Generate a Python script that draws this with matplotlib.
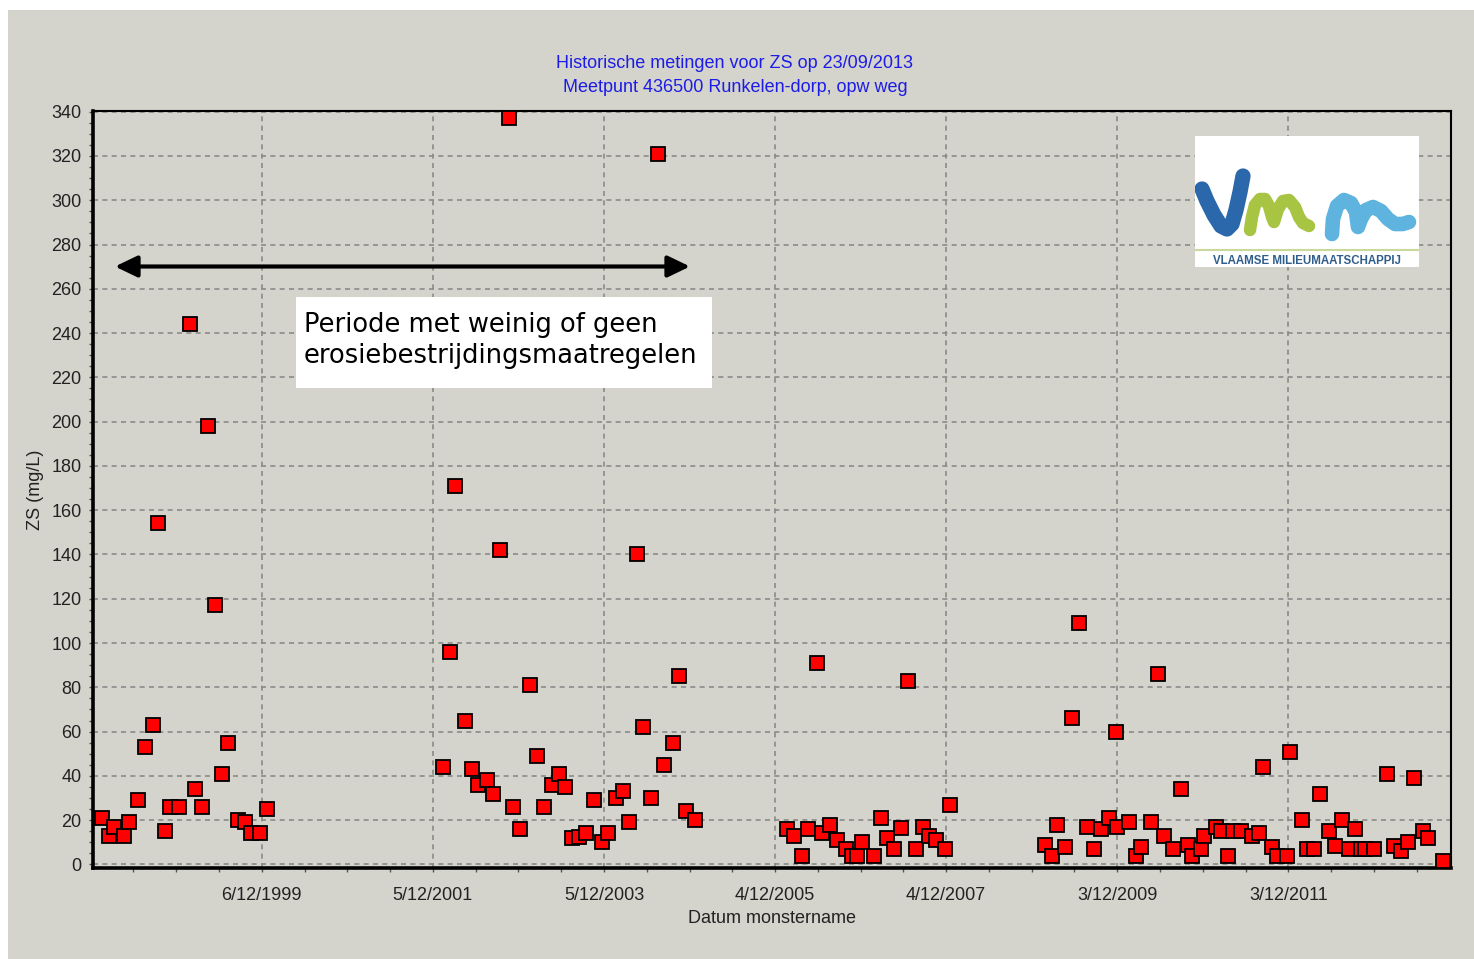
import matplotlib
matplotlib.use('Agg')
import matplotlib.pyplot as plt
import matplotlib.dates as mdates
from matplotlib.patches import Rectangle, FancyArrowPatch
from matplotlib.ticker import FixedLocator, MultipleLocator
import numpy as np
from datetime import datetime

plt.rcParams['font.family'] = ['Liberation Sans', 'DejaVu Sans']

# ZS measurements at 436500 Runkelen-dorp (mg/L)
dates = ['1998-01-25', '1998-02-23', '1998-03-17', '1998-04-28', '1998-05-19', '1998-06-24',
         '1998-07-24', '1998-08-27', '1998-09-19', '1998-10-19', '1998-11-09', '1998-12-19',
         '1999-02-01', '1999-02-22', '1999-03-24', '1999-04-20', '1999-05-20', '1999-06-18',
         '1999-07-16', '1999-08-27', '1999-09-25', '1999-10-23', '1999-11-28', '1999-12-28',
         '2002-01-18', '2002-02-15', '2002-03-09', '2002-04-21', '2002-05-19', '2002-06-16',
         '2002-07-22', '2002-08-19', '2002-09-17', '2002-10-25', '2002-11-13', '2002-12-13',
         '2003-01-25', '2003-02-21', '2003-03-23', '2003-04-26', '2003-05-28', '2003-06-23',
         '2003-07-23', '2003-08-21', '2003-09-18', '2003-10-24', '2003-11-28', '2003-12-21',
         '2004-01-24', '2004-02-23', '2004-03-21', '2004-04-24', '2004-05-19', '2004-06-23',
         '2004-07-22', '2004-08-19', '2004-09-24', '2004-10-22', '2004-11-20', '2004-12-27',
         '2006-01-23', '2006-02-22', '2006-03-28', '2006-04-25', '2006-06-01', '2006-06-21',
         '2006-07-28', '2006-08-25', '2006-10-02', '2006-10-27', '2006-11-19', '2006-12-12',
         '2007-01-30', '2007-02-28', '2007-03-28', '2007-04-26', '2007-05-24', '2007-06-23',
         '2007-07-28', '2007-08-26', '2007-09-23', '2007-10-22', '2007-11-28', '2007-12-19',
         '2009-01-30', '2009-02-27', '2009-03-20', '2009-04-25', '2009-05-25', '2009-06-22',
         '2009-07-28', '2009-08-26', '2009-09-23', '2009-10-29', '2009-11-27', '2009-12-01',
         '2010-01-23', '2010-02-19', '2010-03-14', '2010-04-25', '2010-05-25', '2010-06-21',
         '2010-07-27', '2010-09-01', '2010-09-30', '2010-10-20', '2010-11-26', '2010-12-10',
         '2011-01-29', '2011-02-20', '2011-03-21', '2011-04-12', '2011-05-15', '2011-06-30',
         '2011-07-29', '2011-08-18', '2011-09-23', '2011-10-14', '2011-11-28', '2011-12-10',
         '2012-01-30', '2012-02-22', '2012-03-22', '2012-04-18', '2012-05-24', '2012-06-21',
         '2012-07-20', '2012-08-17', '2012-09-14', '2012-10-06', '2012-10-25', '2012-12-02',
         '2013-01-29', '2013-02-25', '2013-03-28', '2013-04-26', '2013-05-23', '2013-06-29',
         '2013-07-20', '2013-09-22']

zs = [21, 13, 17, 13, 19, 29,
      53, 63, 154, 15, 26, 26,
      244, 34, 26, 198, 117, 41,
      55, 20, 19, 14, 14, 25,
      44, 96, 171, 65, 43, 36,
      38, 32, 142, 337, 26, 16,
      81, 49, 26, 36, 41, 35,
      12, 12.5, 14, 29, 10, 14,
      30, 33, 19, 140, 62, 30,
      321, 45, 55, 85, 24, 20,
      16, 13, 4, 16, 91, 14,
      18, 11, 7, 4, 4, 10,
      4, 21, 12, 7, 16.5, 83,
      7, 17, 13, 11, 7, 27,
      9, 4, 18, 8, 66, 109,
      17, 7, 16, 21, 60, 17,
      19, 4, 8, 19, 86, 13,
      7, 34, 9, 4, 7, 13,
      17, 15, 4, 15, 15, 13,
      14, 44, 8, 4, 4, 51,
      20, 7, 7, 32, 15, 8.5,
      20, 7, 16, 7, 7, 7,
      41, 8.5, 6, 10, 39, 15,
      12, 1.5]

tick_labels = ['6/12/1999', '5/12/2001', '5/12/2003', '4/12/2005',
               '4/12/2007', '3/12/2009', '3/12/2011']
x_start = '1997-12-17'
x_end = '2013-10-27'

panel = '#d4d3cc'
W, H = 1474, 959

x = mdates.datestr2num(dates)
ticks = [mdates.date2num(datetime.strptime(d, '%d/%m/%Y')) for d in tick_labels]
xmin = mdates.datestr2num(x_start)
xmax = mdates.datestr2num(x_end)

fig = plt.figure(figsize=(W / 100, H / 100), dpi=100, facecolor='white')
fig.add_artist(Rectangle((8 / W, 0), 1, 1 - 10 / H, transform=fig.transFigure,
                         facecolor=panel, edgecolor='none', zorder=-5))

ax = fig.add_axes([93.3 / W, 91 / H, (1451 - 93.3) / W, 757 / H])
ax.set_facecolor(panel)

ax.plot(x, zs, linestyle='none', marker='s', markersize=9.8, markerfacecolor='#ff0000',
        markeredgecolor='black', markeredgewidth=1.3, zorder=5, clip_on=False)

ax.set_xlim(xmin, xmax)
ax.set_ylim(-1.6, 340.3)

ax.xaxis.set_major_locator(FixedLocator(ticks))
ax.set_xticklabels(tick_labels)
minor = np.arange(ticks[0] - 730, xmax, 182.5)
minor = [m for m in minor if xmin < m < xmax]
ax.xaxis.set_minor_locator(FixedLocator(minor))
ax.yaxis.set_major_locator(MultipleLocator(20))
ax.yaxis.set_minor_locator(MultipleLocator(5))

ax.grid(True, which='major', color='#8a8a8a', linestyle=(0, (3, 2.6)), linewidth=1.2)
ax.tick_params(which='both', direction='out', length=3, width=1, color='#555555',
               labelsize=13, colors='#555555', labelcolor='#222222')
ax.tick_params(axis='x', pad=10.5)
ax.tick_params(axis='y', pad=5.5)

ax.spines['left'].set_linewidth(2.6)
ax.spines['bottom'].set_linewidth(2.6)
ax.spines['top'].set_linewidth(1.5)
ax.spines['right'].set_linewidth(1.5)
for s in ax.spines.values():
    s.set_color('black')

ax.set_xlabel('Datum monstername', fontsize=13, color='#222222')
ax.xaxis.set_label_coords(0.5, -0.056)
ax.set_ylabel('ZS (mg/L)', fontsize=13, color='#222222')
ax.yaxis.set_label_coords(-0.036, 0.5)

fig.text(735 / W, 1 - 63 / H, 'Historische metingen voor ZS op 23/09/2013',
         ha='center', va='center', fontsize=13, color='#1c1ce6')
fig.text(735 / W, 1 - 87 / H, 'Meetpunt 436500 Runkelen-dorp, opw weg',
         ha='center', va='center', fontsize=13, color='#1c1ce6')

###############################################################################
# period annotation: double arrow + white text box

arrow = FancyArrowPatch((115 / W, 1 - 266.5 / H), (690 / W, 1 - 266.5 / H),
                        transform=fig.transFigure,
                        arrowstyle='<|-|>,head_length=1.35,head_width=0.65',
                        mutation_scale=10, linewidth=3, color='black',
                        shrinkA=0, shrinkB=0, zorder=6)
fig.add_artist(arrow)

fig.add_artist(Rectangle((296 / W, 1 - 388 / H), 416 / W, 91 / H, transform=fig.transFigure,
                         facecolor='white', edgecolor='none', zorder=6))
fig.text(304 / W, 1 - 312 / H, 'Periode met weinig of geen\nerosiebestrijdingsmaatregelen',
         ha='left', va='top', fontsize=18.5, family='DejaVu Sans', color='black',
         linespacing=1.25, zorder=7)

###############################################################################
# VMM logo

lg = fig.add_axes([1195 / W, 1 - 267 / H, 224 / W, 131 / H])
lg.set_facecolor('white')
lg.set_xlim(0, 224)
lg.set_ylim(0, 131)
lg.set_xticks([])
lg.set_yticks([])
for s in lg.spines.values():
    s.set_visible(False)

v_x = [7, 12, 19, 26, 32, 37, 41, 45, 48]
v_y = [78, 66, 52, 41, 38, 43, 57, 75, 91]
g_x = [55, 57, 60, 65, 70, 74, 77, 79, 83, 88, 94, 100, 104, 108, 114]
g_y = [37, 50, 62, 68, 68, 61, 50, 45, 58, 66, 67, 60, 50, 44, 41]
b_x = [137, 138, 142, 149, 156, 161, 163, 166, 171, 178, 186, 193, 200, 208, 214]
b_y = [33, 48, 61, 67, 64, 55, 40, 48, 57, 60, 56, 48, 43, 43, 45]

kw = dict(solid_capstyle='round', solid_joinstyle='round')
lg.plot(v_x, v_y, color='#2b67ab', linewidth=11, **kw)
lg.plot(g_x, g_y, color='#a7c442', linewidth=9, **kw)
lg.plot(b_x, b_y, color='#5eb4df', linewidth=10.5, **kw)
lg.plot([0, 224], [17, 17], color='#c9d99a', linewidth=1.5)
lg.text(112, 5.5, 'VLAAMSE MILIEUMAATSCHAPPIJ', ha='center', va='center',
        fontsize=8.3, fontweight='bold', color='#2f5d8c')

fig.savefig('out.png', dpi=100, facecolor=fig.get_facecolor())
